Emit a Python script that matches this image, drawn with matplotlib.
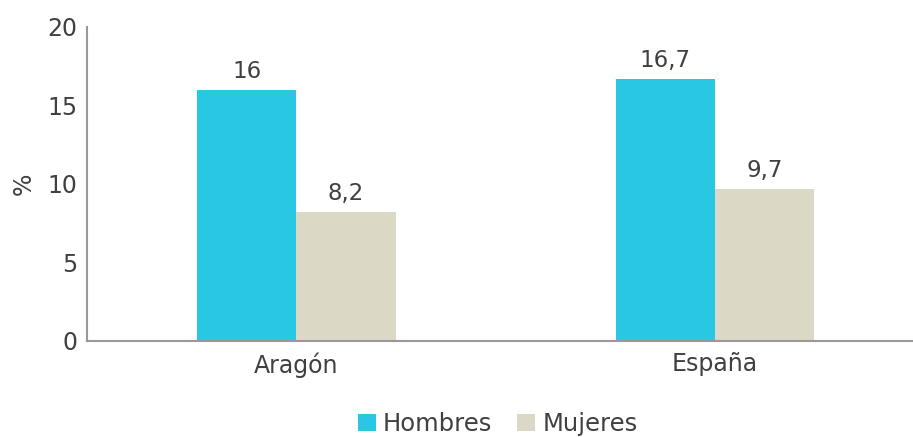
import matplotlib.pyplot as plt
import numpy as np

regiones = ['Aragón', 'España']
hombres = [16, 16.7]
mujeres = [8.2, 9.7]
etiquetas_h = ['16', '16,7']
etiquetas_m = ['8,2', '9,7']

plt.rcParams['font.family'] = ['DejaVu Sans']
fig = plt.figure(figsize=(9.13, 4.37), dpi=100)
ax = fig.add_axes([0.0953, 0.2197, 0.917, 0.7186])

x = np.arange(len(regiones))
w = 0.237
b1 = ax.bar(x - w / 2, hombres, w, color='#29C7E1', label='Hombres')
b2 = ax.bar(x + w / 2, mujeres, w, color='#DCD8C6', label='Mujeres')

for bars, labs in ((b1, etiquetas_h), (b2, etiquetas_m)):
    for b, t in zip(bars, labs):
        ax.annotate(t, (b.get_x() + b.get_width() / 2, b.get_height()),
                    xytext=(0, 5), textcoords='offset points',
                    ha='center', va='bottom', fontsize=16.5, color='#404040')

ax.set_xlim(-0.5, 1.5)
ax.set_ylim(0, 20)
ax.set_yticks([0, 5, 10, 15, 20])
ax.set_xticks(x)
ax.set_xticklabels(regiones)
ax.tick_params(length=0, labelsize=17, colors='#404040')
ax.tick_params(axis='y', pad=7)
ax.tick_params(axis='x', pad=8)
ax.set_ylabel('%', fontsize=17, color='#404040', labelpad=8)

for s in ['top', 'right']:
    ax.spines[s].set_visible(False)
for s in ['left', 'bottom']:
    ax.spines[s].set_color('#999999')
    ax.spines[s].set_linewidth(1.5)

fig.legend(handles=[b1, b2], loc='center', bbox_to_anchor=(0.545, 0.03),
           ncol=2, frameon=False, fontsize=17.5, handlelength=0.75,
           handleheight=0.75, handletextpad=0.3, columnspacing=1.0,
           labelcolor='#404040')

fig.savefig('out.png', dpi=100)
